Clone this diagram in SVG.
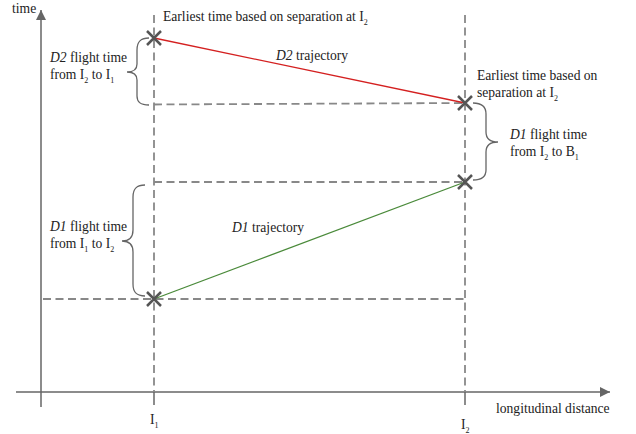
<svg xmlns="http://www.w3.org/2000/svg" width="636" height="434" viewBox="0 0 636 434">
<style>
text{font-family:"Liberation Serif","Times New Roman",serif;font-size:13.6px;fill:#222}
.sub{font-size:8px}
.ax{stroke:#666;stroke-width:1.5;fill:none}
.dash{stroke:#888;stroke-width:1.8;stroke-dasharray:8,4.5;fill:none}
.br{stroke:#666;stroke-width:1.3;fill:none}
.x{stroke:#555;stroke-width:2.5;fill:none}
</style>
<defs>
<marker id="ah" viewBox="0 0 10 10" refX="10" refY="5" markerWidth="12" markerHeight="10" markerUnits="userSpaceOnUse" orient="auto"><path d="M0,0 L10,5 L0,10 z" fill="#666"/></marker>
<path id="cross" d="M-7,-7 L7,7 M-7,7 L7,-7" class="x"/>
</defs>
<g id="connectors">
<line class="ax" x1="41" y1="407" x2="41" y2="10" marker-end="url(#ah)"/>
<line class="ax" x1="16" y1="392" x2="610" y2="392" marker-end="url(#ah)"/>
<line class="dash" x1="154" y1="15" x2="154" y2="392"/>
<line class="dash" x1="465" y1="15" x2="465" y2="392"/>
<line class="ax" x1="154" y1="392" x2="154" y2="405"/>
<line class="ax" x1="465" y1="392" x2="465" y2="405"/>
<line class="dash" x1="154" y1="104.5" x2="465" y2="103"/>
<line class="dash" x1="154" y1="182" x2="465" y2="182"/>
<line class="dash" x1="43" y1="299" x2="465" y2="299"/>
<line x1="154" y1="38" x2="465" y2="103" stroke="#d42020" stroke-width="1.3"/>
<line x1="154" y1="299" x2="465" y2="182" stroke="#4a8a3a" stroke-width="1.3"/>
<path class="br" d="M149,38 C140,38 137,42 137,50 L137,64 C137,70 133,72 127,72 C133,72 137,74 137,80 L137,96 C137,102 140,105 149,105"/>
<path class="br" d="M145,185 C136,185 133,189 133,197 L133,230 C133,237 129,241 122,241 C129,241 133,245 133,252 L133,284 C133,292 136,296 145,296"/>
<path class="br" d="M473,103 C482,103 486,107 486,114 L486,132 C486,138 490,142 498,142 C490,142 486,146 486,152 L486,170 C486,177 482,180 473,180"/>
</g>
<g id="cross1"><use href="#cross" x="154" y="38"/></g>
<g id="cross2"><use href="#cross" x="465" y="103"/></g>
<g id="cross3"><use href="#cross" x="465" y="182"/></g>
<g id="cross4"><use href="#cross" x="154" y="299"/></g>
<g id="labels">
<text x="12" y="13">time</text>
<text x="163" y="21">Earliest time based on separation at I<tspan class="sub" dy="4">2</tspan></text>
<text x="276" y="60"><tspan font-style="italic">D2</tspan> trajectory</text>
<text x="477" y="80">Earliest time based on</text>
<text x="477" y="97">separation at I<tspan class="sub" dy="4">2</tspan></text>
<text x="510" y="139"><tspan font-style="italic">D1</tspan> flight time</text>
<text x="510" y="156">from I<tspan class="sub" dy="4">2</tspan><tspan dy="-4"> to B</tspan><tspan class="sub" dy="4">1</tspan></text>
<text x="50" y="62"><tspan font-style="italic">D2</tspan> flight time</text>
<text x="50" y="79">from I<tspan class="sub" dy="4">2</tspan><tspan dy="-4"> to I</tspan><tspan class="sub" dy="4">1</tspan></text>
<text x="50" y="231"><tspan font-style="italic">D1</tspan> flight time</text>
<text x="50" y="248">from I<tspan class="sub" dy="4">1</tspan><tspan dy="-4"> to I</tspan><tspan class="sub" dy="4">2</tspan></text>
<text x="232" y="232"><tspan font-style="italic">D1</tspan> trajectory</text>
<text x="496" y="413">longitudinal distance</text>
<text x="150" y="424">I<tspan class="sub" dy="4">1</tspan></text>
<text x="461" y="429">I<tspan class="sub" dy="4">2</tspan></text>
</g>
</svg>
